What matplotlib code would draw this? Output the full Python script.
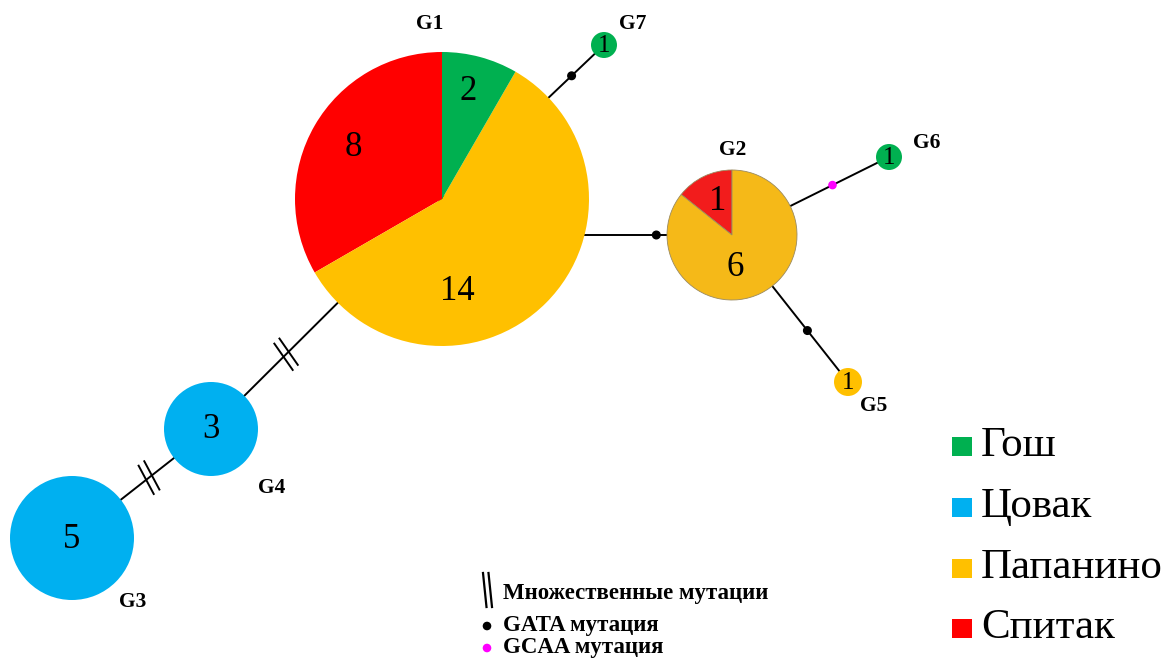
import numpy as np
import matplotlib
matplotlib.use("Agg")
import matplotlib.pyplot as plt
from matplotlib.patches import Wedge, Circle, Rectangle

# ---- data -------------------------------------------------------------
populations = ["Гош", "Цовак", "Папанино", "Спитак"]
pop_colors = ["#00B050", "#00B0F0", "#FFC000", "#FF0000"]

haplotypes = ["G1", "G2", "G3", "G4", "G5", "G6", "G7"]
# counts per haplotype in population order: Гош, Цовак, Папанино, Спитак
counts_gosh = [2, 0, 0, 0, 0, 1, 1]
counts_tsovak = [0, 0, 5, 3, 0, 0, 0]
counts_papanino = [14, 6, 0, 0, 1, 0, 0]
counts_spitak = [8, 1, 0, 0, 0, 0, 0]

# network edges: (from, to, mutation type)
edges_from = ["G1", "G1", "G1", "G4", "G2", "G2"]
edges_to = ["G7", "G2", "G4", "G3", "G6", "G5"]
edges_mut = ["GATA", "GATA", "multi", "multi", "GCAA", "GATA"]

legend_mut_labels = ["Множественные мутации", "GATA мутация", "GCAA мутация"]

# ---- layout (pixel-like coordinates, y pointing up) --------------------
W, H = 1168, 659
node_xy = {"G1": (442, 460), "G2": (732, 424), "G3": (72, 121), "G4": (211, 230),
           "G5": (848, 277), "G6": (889, 502), "G7": (604, 614)}
node_r = {"G1": 147, "G2": 65, "G3": 62, "G4": 47, "G5": 14, "G6": 13, "G7": 13}
node_label_xy = {"G1": (430, 635), "G2": (733, 509), "G3": (133, 57), "G4": (272, 171),
                 "G5": (874, 253), "G6": (927, 516), "G7": (633, 635)}
edge_t = [0.80, 0.56, 0.675, 0.446, 0.64, 0.65]
# count label offsets from node centre, per (haplotype, population index)
count_label_off = {("G1", 0): (26, 107), ("G1", 3): (-89, 52), ("G1", 2): (15, -93),
                   ("G2", 3): (-14, 33), ("G2", 2): (3, -33)}
g2_colors = {2: "#F5B918", 3: "#F21C1C"}

serif = ["Liberation Serif", "DejaVu Serif"]

fig = plt.figure(figsize=(W / 100, H / 100), dpi=100)
ax = fig.add_axes([0, 0, 1, 1])
ax.set_xlim(0, W)
ax.set_ylim(0, H)
ax.set_aspect("equal")
ax.axis("off")

counts = np.array([counts_gosh, counts_tsovak, counts_papanino, counts_spitak])  # pops x haps


def hatch(ax, p, d, length=34, gap=3.6, angle=-100):
    """Two short parallel strokes across an edge (multiple mutations)."""
    ang = np.arctan2(d[1], d[0]) + np.deg2rad(angle)
    u = np.array([np.cos(ang), np.sin(ang)])
    for s in (-gap, gap):
        c = p + d * s
        a, b = c - u * length / 2, c + u * length / 2
        ax.plot([a[0], b[0]], [a[1], b[1]], color="black", lw=1.4, zorder=2,
                solid_capstyle="butt")


# edges
for f, t, m, tt in zip(edges_from, edges_to, edges_mut, edge_t):
    p0 = np.array(node_xy[f], float)
    p1 = np.array(node_xy[t], float)
    if (f, t) == ("G1", "G2"):
        p0 = np.array([560.0, p1[1]])
    ax.plot([p0[0], p1[0]], [p0[1], p1[1]], color="black", lw=1.4, zorder=1)
    p = p0 + (p1 - p0) * tt
    d = (p1 - p0) / np.linalg.norm(p1 - p0)
    if m == "GATA":
        ax.add_patch(Circle(p, 3.8, color="black", zorder=3))
    elif m == "GCAA":
        ax.add_patch(Circle(p, 3.6, color="#FF00FF", zorder=3))
    else:
        hatch(ax, p, d)

# nodes
for j, h in enumerate(haplotypes):
    cx, cy = node_xy[h]
    r = node_r[h]
    col = counts[:, j]
    total = col.sum()
    start = 90.0
    # wedges run counter-clockwise from the top in reverse population order
    for i in [3, 2, 1, 0]:
        n = col[i]
        if n == 0:
            continue
        span = 360.0 * n / total
        fc = g2_colors.get(i, pop_colors[i]) if h == "G2" else pop_colors[i]
        ec = "#9A8A60" if h == "G2" else "none"
        ax.add_patch(Wedge((cx, cy), r, start, start + span, facecolor=fc,
                           edgecolor=ec, lw=0.6, zorder=4))
        if (h, i) in count_label_off:
            ox, oy = count_label_off[(h, i)]
            ax.text(cx + ox, cy + oy, str(n), ha="center", va="center",
                    fontsize=25, family=serif, zorder=5)
        start += span
    if (col > 0).sum() == 1:
        fs = 25 if r > 30 else 18
        ax.text(cx, cy - 1, str(total), ha="center", va="center",
                fontsize=fs, family=serif, zorder=5)
    lx, ly = node_label_xy[h]
    ax.text(lx, ly, h, ha="center", va="center", fontsize=15.5,
            fontweight="bold", family=serif, zorder=5)

# population legend
leg_y = [213, 152, 91, 31]
for name, c, y in zip(populations, pop_colors, leg_y):
    ax.add_patch(Rectangle((952, y - 9.5), 20, 19, facecolor=c, edgecolor="none"))
    ax.text(981, y, name, ha="left", va="center", fontsize=31, family=serif)

# mutation legend
for x0 in (483, 488.5):
    ax.plot([x0, x0 + 3.5], [86, 52], color="black", lw=1.6)
ax.text(503, 66, legend_mut_labels[0], ha="left", va="center", fontsize=16.5,
        fontweight="bold", family=serif)
ax.add_patch(Circle((487, 33), 3.6, color="black"))
ax.text(503, 34, legend_mut_labels[1], ha="left", va="center", fontsize=16.5,
        fontweight="bold", family=serif)
ax.add_patch(Circle((487, 11), 3.6, color="#FF00FF"))
ax.text(503, 12, legend_mut_labels[2], ha="left", va="center", fontsize=16.5,
        fontweight="bold", family=serif)

fig.savefig("out.png", dpi=100, facecolor="white")
